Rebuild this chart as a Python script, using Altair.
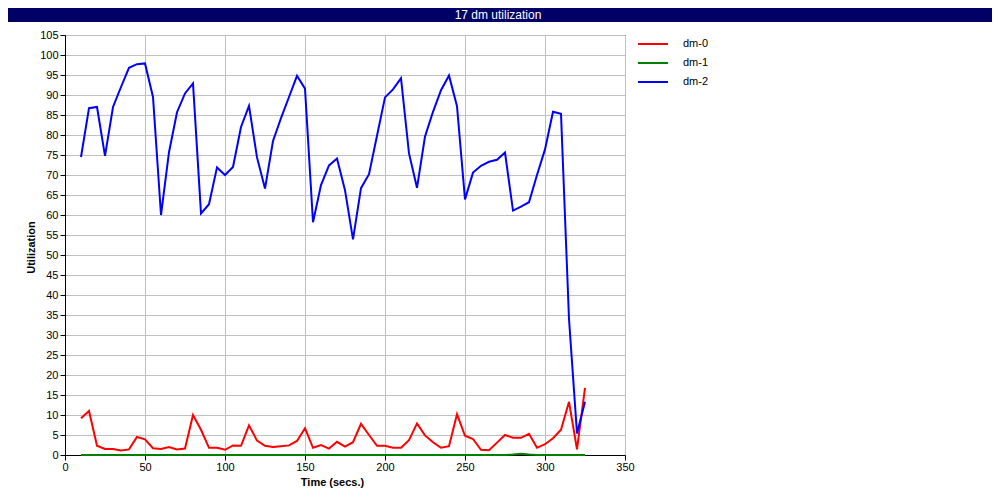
import altair as alt
import pandas as pd

# ---- data ----
time_s = [10, 15, 20, 25, 30, 35, 40, 45, 50, 55, 60, 65, 70, 75, 80, 85,
          90, 95, 100, 105, 110, 115, 120, 125, 130, 135, 140, 145, 150, 155, 160, 165,
          170, 175, 180, 185, 190, 195, 200, 205, 210, 215, 220, 225, 230, 235, 240, 245,
          250, 255, 260, 265, 270, 275, 280, 285, 290, 295, 300, 305, 310, 315, 320, 325]

dm0 = [9.2, 11.0, 2.3, 1.5, 1.5, 1.1, 1.4, 4.5, 3.9, 1.7, 1.5, 2.0, 1.4, 1.6, 10.0, 6.3,
       1.8, 1.8, 1.3, 2.4, 2.3, 7.4, 3.6, 2.3, 2.0, 2.2, 2.4, 3.5, 6.7, 1.8, 2.5, 1.6,
       3.3, 2.1, 3.2, 7.8, 5.0, 2.3, 2.3, 1.8, 1.8, 3.7, 7.9, 4.9, 3.2, 1.8, 2.2, 10.2,
       4.8, 4.0, 1.3, 1.2, 3.1, 5.0, 4.3, 4.3, 5.3, 1.8, 2.7, 4.2, 6.3, 13.3, 1.4, 16.8]

dm1 = [0, 0, 0, 0, 0, 0, 0, 0, 0, 0, 0, 0, 0, 0, 0, 0,
       0, 0, 0, 0, 0, 0, 0, 0, 0, 0, 0, 0, 0, 0, 0, 0,
       0, 0, 0, 0, 0, 0, 0, 0, 0, 0, 0, 0, 0, 0, 0, 0,
       0, 0, 0, 0, 0, 0, 0.1, 0.3, 0.1, 0, 0, 0, 0, 0, 0, 0]

dm2 = [74.5, 86.7, 87.0, 74.8, 87.0, 92.0, 96.8, 97.7, 97.9, 89.5, 60.0, 75.7, 85.7, 90.4, 92.9, 60.4,
       62.7, 71.9, 70.0, 72.0, 82.0, 87.3, 74.4, 66.6, 78.5, 84.2, 89.5, 94.8, 91.6, 58.2, 67.5, 72.4,
       74.1, 66.2, 53.9, 66.7, 70.2, 79.8, 89.4, 91.4, 94.2, 75.4, 66.8, 79.6, 85.8, 91.2, 94.9, 87.2,
       63.9, 70.6, 72.3, 73.3, 73.8, 75.6, 61.1, 62.1, 63.2, 70.0, 76.4, 85.8, 85.3, 34.0, 5.4, 13.3]

series_names = ["dm-0", "dm-1", "dm-2"]
series_colors = ["#ff0000", "#008000", "#0000ff"]

x_ticks = [0, 50, 100, 150, 200, 250, 300, 350]
y_ticks = [0, 5, 10, 15, 20, 25, 30, 35, 40, 45, 50, 55, 60, 65, 70, 75, 80, 85, 90, 95, 100, 105]

chart_title = "17 dm utilization"
x_title = "Time (secs.)"
y_title = "Utilization"

# ---- tables ----
rows = []
for name, vals in zip(series_names, [dm0, dm1, dm2]):
    for t, v in zip(time_s, vals):
        rows.append({"time": t, "value": v, "series": name})
df = pd.DataFrame(rows)
leg_df = pd.DataFrame({"series": series_names})
one = pd.DataFrame({"label": [chart_title]})

FONT = "Liberation Sans"
color_scale = alt.Scale(domain=series_names, range=series_colors)

lines = alt.Chart(df).mark_line(strokeWidth=2).encode(
    x=alt.X("time:Q", scale=alt.Scale(domain=[0, 350], nice=False),
            axis=alt.Axis(values=x_ticks, title=x_title, format="d",
                          titleX=267, titleY=27, titleAlign="center", titleBaseline="middle",
                          titleFontWeight="bold", titleFontSize=11, labelFontSize=11,
                          labelPadding=1, tickSize=5, labelFlush=False)),
    y=alt.Y("value:Q", scale=alt.Scale(domain=[0, 105], nice=False),
            axis=alt.Axis(values=y_ticks, title=y_title, format="d",
                          titleX=-34, titleY=212, titleAngle=270, titleAlign="center",
                          titleBaseline="middle", titleFontWeight="bold", titleFontSize=11,
                          labelFontSize=11, labelPadding=2, tickSize=5, labelFlush=False)),
    color=alt.Color("series:N", scale=color_scale, legend=None),
    detail="series:N",
)

leg_y = alt.Y("series:N", scale=alt.Scale(type="point", range=[9, 47], padding=0), axis=None)

leg_lines = alt.Chart(leg_df).mark_rule(strokeWidth=2).encode(
    x=alt.value(573), x2=alt.value(603), y=leg_y,
    color=alt.Color("series:N", scale=color_scale, legend=None),
)
leg_text = alt.Chart(leg_df).mark_text(align="left", baseline="middle", fontSize=11,
                                        font=FONT, color="black").encode(
    x=alt.value(618), y=leg_y, text="series:N",
)

title_bar = alt.Chart(one).mark_rect(color="#000066").encode(
    x=alt.value(-57), x2=alt.value(927), y=alt.value(-27), y2=alt.value(-13),
)
title_text = alt.Chart(one).mark_text(align="center", baseline="middle", fontSize=12,
                                       font=FONT, color="white").encode(
    x=alt.value(433), y=alt.value(-20), text="label:N",
)

chart = alt.layer(lines, leg_lines, leg_text, title_bar, title_text).resolve_scale(
    y="independent"
).properties(
    width=560, height=420,
    padding={"left": 57, "top": 27, "right": 367, "bottom": 40},
    autosize=alt.AutoSizeParams(type="none"),
    background="white",
).configure_view(
    stroke="black", strokeWidth=1
).configure_axis(
    gridColor="#c0c0c0", gridWidth=1, domainColor="black", tickColor="black",
    labelColor="black", titleColor="black", labelFont=FONT, titleFont=FONT,
).configure_text(font=FONT)

chart.save("out.html", embed_options={"renderer": "svg", "actions": False})
